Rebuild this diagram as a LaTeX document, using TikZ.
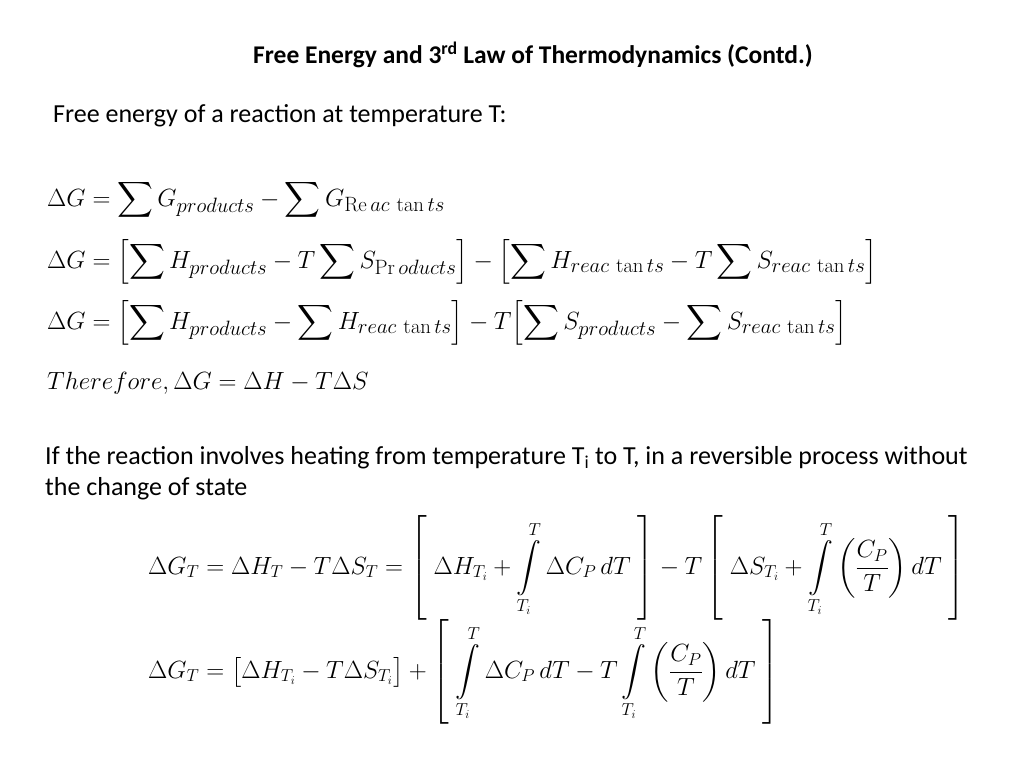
\documentclass[tikz,border=0pt]{standalone}
\usepackage{amsmath}
\usepackage[no-math]{fontspec}
\setmainfont{Carlito}
\tikzset{
  line/.style={anchor=west,inner sep=0pt},
  bigeq/.style={line,font=\fontsize{30}{36}\selectfont},
  smalleq/.style={line,font=\fontsize{24}{30}\selectfont},
  body/.style={line,font=\fontsize{26}{31}\selectfont}
}
\begin{document}
\begin{tikzpicture}[x=1pt,y=-1pt]
\useasboundingbox (0,0) rectangle (1024,768);
\fill[white] (0,0) rectangle (1024,768);

\node[anchor=center,font=\bfseries\fontsize{25.5}{30}\selectfont] (title) at (533,55) {Free Energy and 3\textsuperscript{rd} Law of Thermodynamics (Contd.)};
\node[body] (intro) at (53,116) {Free energy of a reaction at temperature T:};

% free energy lines
\node[bigeq] (eqa) at (47,200) {$\displaystyle\Delta G=\sum G_{products}-\sum G_{\mathrm{Re}\,ac\,\tan ts}$};
\node[bigeq] (eqb) at (47,262) {$\displaystyle\Delta G=\Bigl[\sum H_{products}-T\sum S_{\mathrm{Pr}\,oducts}\Bigr]-\Bigl[\sum H_{reac\,\tan ts}-T\sum S_{reac\,\tan ts}\Bigr]$};
\node[bigeq] (eqc) at (47,323) {$\displaystyle\Delta G=\Bigl[\sum H_{products}-\sum H_{reac\,\tan ts}\Bigr]-T\Bigl[\sum S_{products}-\sum S_{reac\,\tan ts}\Bigr]$};
\node[bigeq] (eqd) at (47,383) {$Therefore,\Delta G=\Delta H-T\Delta S$};

\node[body] (heat1) at (45,458) {If the reaction involves heating from temperature T\textsubscript{i} to T, in a reversible process without};
\node[body] (heat2) at (45,489) {the change of state};

% heating lines
\node[smalleq] (eqe) at (148,568) {$\displaystyle\Delta G_T=\Delta H_T-T\Delta S_T=\left[\;\Delta H_{T_i}+\int\limits_{T_i}^{T}\Delta C_P\,dT\;\right]-T\left[\;\Delta S_{T_i}+\int\limits_{T_i}^{T}\left(\frac{C_P}{T}\right)dT\;\right]$};
\node[smalleq] (eqf) at (148,672) {$\displaystyle\Delta G_T=\bigl[\Delta H_{T_i}-T\Delta S_{T_i}\bigr]+\left[\;\int\limits_{T_i}^{T}\Delta C_P\,dT-T\int\limits_{T_i}^{T}\left(\frac{C_P}{T}\right)dT\;\right]$};
\end{tikzpicture}
\end{document}
